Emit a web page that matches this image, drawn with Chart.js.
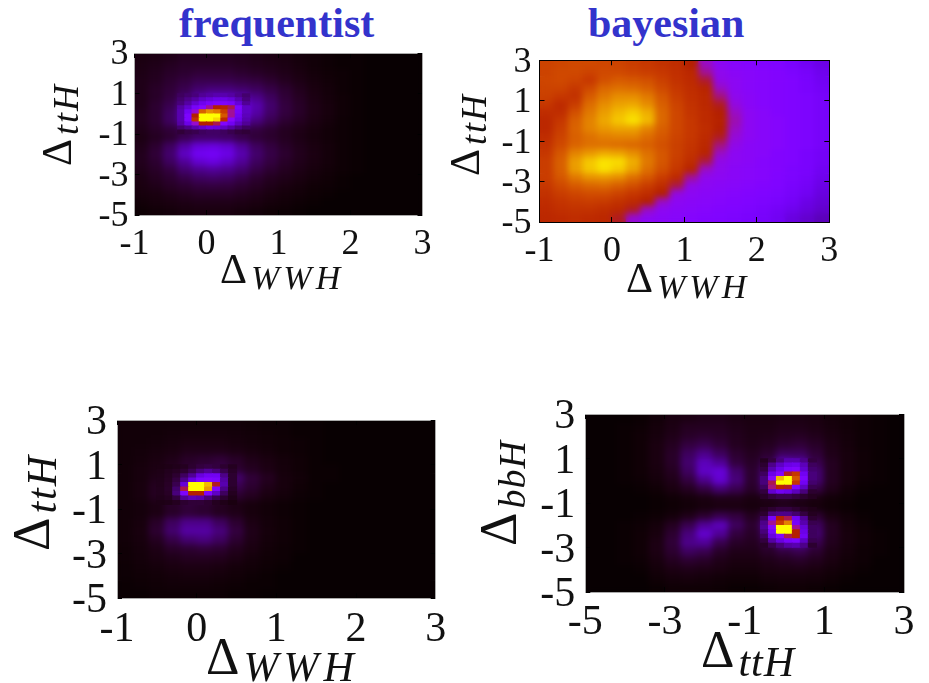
<!DOCTYPE html>
<html>
<head>
<meta charset="utf-8">
<title>frequentist vs bayesian</title>
<script src="https://cdn.jsdelivr.net/npm/chart.js@4/dist/chart.umd.min.js"></script>
<style>
  html, body { margin: 0; padding: 0; background: #fff; }
  body { position: relative; width: 929px; height: 683px; overflow: hidden; }
  canvas { position: absolute; }
  .head { position: absolute; top: 2px; font: bold 42px/1 "Liberation Serif", serif; color: #3333cc; }
  .lab { position: absolute; font-family: "Liberation Serif", serif; line-height: 1; white-space: nowrap; color: #111; }
  .lab i { position: relative; margin-left: 4px; }
  .rot { transform: rotate(-90deg); transform-origin: 0 0; }
</style>
</head>
<body>
<div class="head" style="left:179px">frequentist</div>
<div class="head" style="left:588px">bayesian</div>

<canvas id="panelA" style="clip-path: inset(0 39px 0 0)"></canvas>
<canvas id="panelB"></canvas>
<canvas id="panelC"></canvas>
<canvas id="panelD"></canvas>

<div class="lab" style="left:220px;top:248px;font-size:42px">Δ<i style="font-size:34px;letter-spacing:4px;top:6px">WWH</i></div>
<div class="lab rot" style="left:36px;top:166px;font-size:42px">Δ<i style="font-size:36px;letter-spacing:2px;top:7px">ttH</i></div>
<div class="lab" style="left:626px;top:257px;font-size:42px">Δ<i style="font-size:34px;letter-spacing:4px;top:6px">WWH</i></div>
<div class="lab rot" style="left:444px;top:176px;font-size:42px">Δ<i style="font-size:36px;letter-spacing:2px;top:7px">ttH</i></div>
<div class="lab" style="left:206px;top:631px;font-size:52px">Δ<i style="font-size:42px;letter-spacing:5px;top:7px">WWH</i></div>
<div class="lab rot" style="left:6px;top:551px;font-size:52px">Δ<i style="font-size:42px;letter-spacing:2px;top:7px">ttH</i></div>
<div class="lab" style="left:701px;top:624px;font-size:52px">Δ<i style="font-size:42px;letter-spacing:1px;top:9px">ttH</i></div>
<div class="lab rot" style="left:473px;top:546px;font-size:52px">Δ<i style="font-size:38px;letter-spacing:1px;top:9px">bbH</i></div>

<script>
// tick values per axis
const wwhTicksStep = 1
const tthTicksStep = 2

// values are percent of the colour range, rows run top to bottom
const aCoarse = [
  [1,1.2,1.5,2,2,2,2,1.8,1.5,1.2,1,.7,.5,.3,.2,.2,.1,.1,.1,.1],
  [1.2,1.5,2,2.5,2.5,2.5,2.5,2.2,1.8,1.5,1.2,.8,.5,.3,.2,.2,.1,.1,.1,.1],
  [1.3,1.8,2.5,3,3.5,3.5,3.5,3,2.5,2,1.5,1,.6,.4,.3,.2,.1,.1,.1,.1],
  [1.5,2,3,4,5,5,5,4.5,4,3,2,1.3,.8,.5,.3,.2,.1,.1,.1,.1],
  [1.5,2.5,3.5,5,7,8,8,7,6,4.5,3,1.8,1,.6,.3,.2,.1,.1,.1,.1],
  [1.5,2.5,4,7,11,14,14,12,9,6,3.5,2.2,1.2,.7,.4,.2,.1,.1,.1,.1],
  [1.5,3,5,10,17,22,24,20,12,7,4,2.5,1.4,.8,.4,.2,.1,.1,.1,.1],
  [1.8,3,6,12,20,30,28,20,11,6.5,4,2.5,1.4,.8,.4,.2,.1,.1,.1,.1],
  [1.8,3,6,11,18,20,18,12,8,5,3,2,1.2,.7,.3,.2,.1,.1,.1,.1],
  [1.5,2.5,3.5,5,6.5,7,6.5,5,4,3,2,1.4,.9,.5,.3,.2,.1,.1,.1,.1],
  [1.2,2,3,5,6.5,6.5,6,4.5,3.5,2.8,2,1.3,.8,.5,.3,.2,.1,.1,.1,.1],
  [1.5,3,6,11,16,17,15,10,6,4,2.5,1.6,1,.6,.3,.2,.1,.1,.1,.1],
  [1.8,3.5,7,14,20,21,18,12,7,4.5,3,1.8,1.1,.6,.3,.2,.1,.1,.1,.1],
  [1.8,3,6,10,15,17,14,10,6,4,2.5,1.6,1,.6,.3,.2,.1,.1,.1,.1],
  [1.5,2.5,4,7,9,10,9,7,4.5,3,2,1.3,.8,.5,.3,.2,.1,.1,.1,.1],
  [1.2,2,3,4.5,6,6.5,6,4.5,3,2,1.5,1,.6,.4,.2,.1,.1,.1,.1,.1],
  [1,1.5,2.3,3,3.8,4,3.8,3,2.2,1.5,1,.7,.4,.3,.2,.1,.1,.1,.1,.1],
  [.8,1,1.5,2,2.5,2.5,2.5,2,1.5,1,.7,.5,.3,.2,.1,.1,.1,.1,.1,.1],
  [.5,.8,1,1.3,1.5,1.5,1.5,1.3,1,.7,.5,.3,.2,.1,.1,.1,.1,.1,.1,.1],
  [.3,.5,.7,.9,1,1,1,.8,.6,.4,.3,.2,.1,.1,.1,.1,.1,.1,.1,.1]
]
const aPatch = [
  [6,7,8,10,11,12,12,11,9,7],
  [7,9,11,14,16,18,18,16,12,8],
  [8,11,15,19,22,24,24,22,16,10],
  [11,15,22,27,40,50,52,45,24,14],
  [12,20,35,72,82,78,62,40,22,14],
  [12,24,50,100,100,100,70,40,20,13],
  [12,24,58,100,100,95,55,28,18,12],
  [11,18,35,50,50,45,26,20,14,10],
  [7,9,12,15,18,17,14,11,8,6],
  [3.5,4.5,5,6,6.5,6.5,6,5,4,3.5]
]
const bCoarse = [
  [64,65,66,66,65,64,62,60,58,56,50,36,30,28,27,26,25,23,20,18],
  [64,66,66,64,66,66,64,62,60,57,54,40,31,29,28,27,26,24,22,19],
  [65,66,64,60,68,71,70,68,63,58,55,47,32,30,28,27,26,25,23,20],
  [64,64,60,66,74,76,75,72,66,60,56,52,36,30,28,27,26,25,23,21],
  [63,60,58,71,78,82,82,78,70,62,57,54,42,31,29,27,26,25,24,22],
  [60,55,62,75,82,86,87,82,72,64,58,54,48,33,29,27,26,25,24,22],
  [56,56,68,78,85,90,93,88,74,65,59,55,50,36,30,28,26,25,24,22],
  [54,60,72,80,87,92,96,90,74,65,60,55,51,38,30,28,27,25,24,22],
  [54,62,73,80,84,86,86,80,72,65,60,56,50,36,30,28,27,25,24,22],
  [56,64,72,76,79,80,80,75,70,64,60,55,48,34,30,28,27,25,24,22],
  [58,66,73,76,76,75,74,72,68,63,59,54,42,32,29,28,27,25,24,22],
  [60,70,80,84,87,86,82,76,70,63,58,52,36,30,29,28,26,25,23,21],
  [62,72,85,92,96,95,88,78,70,62,56,46,32,30,29,27,26,25,23,21],
  [62,72,85,92,96,93,86,76,68,60,52,36,31,29,28,27,26,24,23,20],
  [62,70,78,83,84,82,76,70,62,55,40,31,30,29,28,27,25,24,22,19],
  [60,66,71,74,75,72,68,62,56,46,32,30,29,28,27,26,25,23,21,18],
  [58,62,65,67,67,64,60,56,50,33,30,29,28,27,26,25,24,22,20,17],
  [56,59,61,62,61,58,55,50,36,30,29,28,27,26,25,24,23,21,18,16],
  [55,57,58,58,56,54,48,36,30,29,28,27,26,25,24,23,21,19,17,15],
  [54,55,56,55,54,48,34,30,29,28,27,26,25,24,23,22,20,17,15,13]
]
const cCoarse = [
  [.5,.5,.5,.5,.5,.5,.5,.5,.4,.3,.3,.2,.2,.1,.1,.1,.1,.1,.1,.1],
  [.5,.5,.5,.6,.7,.7,.7,.6,.5,.4,.3,.2,.2,.1,.1,.1,.1,.1,.1,.1],
  [.5,.5,.6,.8,1,1,1,.8,.6,.5,.4,.3,.2,.1,.1,.1,.1,.1,.1,.1],
  [.5,.6,.8,1,1.5,1.5,1.5,1.2,.9,.6,.4,.3,.2,.1,.1,.1,.1,.1,.1,.1],
  [.5,.7,1,1.5,2.5,3,3.5,2.5,1.5,1,.6,.4,.2,.1,.1,.1,.1,.1,.1,.1],
  [.5,.8,1.2,2,3,4,4.5,3,2,1.2,.7,.4,.2,.2,.1,.1,.1,.1,.1,.1],
  [.5,.8,1.5,3,5,8,10,7,3.5,2,.8,.5,.2,.2,.1,.1,.1,.1,.1,.1],
  [.5,.9,2,4,8,12,9,5,3,1.5,.8,.4,.2,.1,.1,.1,.1,.1,.1,.1],
  [.5,.9,2,4,6,6,4,3,2,1,.6,.3,.2,.1,.1,.1,.1,.1,.1,.1],
  [.5,.7,1.2,2.5,3.5,3,2,1.2,.8,.5,.3,.2,.1,.1,.1,.1,.1,.1,.1,.1],
  [.5,.7,1.2,2.5,3.5,3,2,1.5,.8,.5,.3,.2,.1,.1,.1,.1,.1,.1,.1,.1],
  [.5,.8,2.5,6,9,9,6,3,1.2,.6,.4,.2,.1,.1,.1,.1,.1,.1,.1,.1],
  [.5,.9,3,7,11,11,8,4,1.5,.7,.4,.2,.1,.1,.1,.1,.1,.1,.1,.1],
  [.5,.8,2,4.5,7,8,6,3,1.3,.6,.4,.2,.1,.1,.1,.1,.1,.1,.1,.1],
  [.4,.7,1.3,2.5,3,3.5,3,1.8,1,.5,.3,.2,.1,.1,.1,.1,.1,.1,.1,.1],
  [.4,.6,1,1.5,2,2,1.8,1.2,.7,.4,.3,.1,.1,.1,.1,.1,.1,.1,.1,.1],
  [.3,.5,.7,1,1.2,1.2,1,.7,.5,.3,.2,.1,.1,.1,.1,.1,.1,.1,.1,.1],
  [.3,.4,.5,.7,.8,.8,.7,.5,.3,.2,.1,.1,.1,.1,.1,.1,.1,.1,.1,.1],
  [.2,.3,.4,.5,.5,.5,.4,.3,.2,.2,.1,.1,.1,.1,.1,.1,.1,.1,.1,.1],
  [.2,.2,.3,.3,.3,.3,.3,.2,.2,.1,.1,.1,.1,.1,.1,.1,.1,.1,.1,.1]
]
const cPatch = [
  [1.2,1.4,1.6,2,3,4,4.5,4,3,2],
  [1.4,1.8,2.2,3,5,8,10,8,5,2.5],
  [1.5,2,3,6,10,17,20,20,9,3],
  [1.6,2.2,4,9,17,24,26,24,11,3],
  [1.7,2.4,5,16,100,100,90,48,12,3],
  [1.8,2.6,7,45,100,100,85,26,9,2.5],
  [1.8,2.4,8,24,50,50,25,14,6,2],
  [1.6,2,4,10,13,12,8,5,3,1.5],
  [1.3,1.5,2,3,3.5,3.5,3,2,1.5,1]
]
const dCoarse = [
  [.1,.1,.1,.2,.5,1,1.2,1.5,1.5,1.2,1,1,1.2,1.2,1,.7,.5,.3,.2,.1],
  [.1,.1,.2,.3,.7,1.2,2,2,2,1.5,1.2,1.2,1.5,1.5,1.2,.8,.5,.3,.2,.1],
  [.1,.1,.2,.4,.8,1.5,2.5,3,2.5,1.8,1.3,1.5,2,2.2,1.7,1,.6,.3,.2,.1],
  [.1,.1,.2,.4,1,2,4,5,3.5,2,1.5,2,3,3.5,2.5,1.3,.7,.3,.2,.1],
  [.1,.1,.2,.4,1,2.5,6,9,6,3,2,3,6,6,3.5,1.5,.8,.4,.2,.1],
  [.1,.1,.2,.4,1,2.5,7,13,10,4,2.5,5,14,12,5,2,.8,.4,.2,.1],
  [.1,.1,.2,.4,.9,2,6,14,16,7,3,8,30,24,7,2,.8,.4,.2,.1],
  [.1,.1,.2,.3,.7,1.5,4,9,15,8,3,10,60,30,7,2,.8,.3,.2,.1],
  [.1,.1,.1,.2,.4,1,2,4,7,5,2.5,7,18,14,4,1.5,.5,.2,.1,.1],
  [.1,.1,.1,.1,.2,.4,.7,1,1.5,1.5,1,1.5,2,1.5,1,.5,.3,.1,.1,.1],
  [.1,.1,.1,.1,.2,.3,.5,.8,1,1,.8,1,1.5,1,.7,.4,.2,.1,.1,.1],
  [.1,.1,.1,.2,.3,.7,1.5,3,5,4,2,5,14,10,3,1,.5,.2,.1,.1],
  [.1,.1,.2,.3,.7,2,5,10,13,6,3,9,50,35,6,2,.7,.3,.1,.1],
  [.1,.1,.2,.4,.9,3,8,15,10,4,2.5,7,30,28,7,2,.8,.4,.2,.1],
  [.1,.1,.2,.4,1.2,3.5,9,10,5,2.5,2,4,10,11,5,1.8,.8,.4,.2,.1],
  [.1,.1,.2,.4,1.2,3,6,5,2.5,1.5,1.5,2.5,4,5,3,1.3,.7,.3,.2,.1],
  [.1,.1,.2,.3,.9,2,3,2.5,1.5,1,1,1.5,2,2.5,1.8,1,.5,.3,.1,.1],
  [.1,.1,.1,.2,.6,1.2,1.5,1.3,1,.7,.7,1,1.2,1.3,1,.6,.4,.2,.1,.1],
  [.1,.1,.1,.1,.4,.7,.8,.7,.5,.4,.4,.6,.7,.7,.6,.4,.2,.1,.1,.1],
  [.1,.1,.1,.1,.2,.4,.4,.4,.3,.2,.2,.3,.4,.4,.3,.2,.1,.1,.1,.1]
]
const dUpper = [
  [2,4,8,12,12,9,4],
  [3,9,14,18,19,13,6],
  [4,12,18,24,26,15,7],
  [6,18,26,48,60,20,8],
  [8,28,90,100,70,24,8],
  [8,45,100,100,60,20,7],
  [6,42,52,48,24,14,5],
  [4,15,20,18,13,8,3],
  [2.5,4,5,5,4,3,2]
]
const dLower = [
  [2,3,4,4,3,2,1.5],
  [3,8,9,9,7,4,2],
  [6,22,50,45,20,10,3],
  [9,40,62,80,22,12,5],
  [10,28,100,100,40,16,6],
  [8,22,100,100,50,18,6],
  [6,17,26,45,50,20,6],
  [4,11,17,22,24,14,5],
  [2.5,5,8,11,12,9,3]
]

// gnuplot pm3d default palette
function heatColor(v) {
  const g = Math.min(1, Math.max(0, v / 100))
  const r = Math.round(255 * Math.sqrt(g))
  const gr = Math.round(255 * g * g * g)
  const b = Math.round(255 * Math.max(0, Math.sin(2 * Math.PI * g)))
  return `rgb(${r},${gr},${b})`
}

function gridCells(rows, x0, y0, dx, dy) {
  const out = []
  rows.forEach((row, r) => {
    row.forEach((v, c) => {
      out.push({ x: x0 + (c + 0.5) * dx, y: [y0 - (r + 1) * dy, y0 - r * dy], v })
    })
  })
  return out
}

// smooths a coarse layer: the plot area is drawn back over itself through a blur
const softCells = {
  id: 'softCells',
  afterDatasetDraw(chart, args) {
    const soft = chart.data.datasets[args.index].soft
    if (!soft) return
    const { left, top, width, height } = chart.chartArea
    const ctx = chart.ctx
    ctx.save()
    ctx.beginPath()
    ctx.rect(left, top, width, height)
    ctx.clip()
    ctx.filter = 'blur(' + soft + 'px)'
    ctx.drawImage(chart.canvas, left, top, width, height, left, top, width, height)
    ctx.restore()
  }
}

function drawPanel(id, box, plot, opt) {
  const canvas = document.getElementById(id)
  canvas.width = box.w
  canvas.height = box.h
  canvas.style.left = box.x + 'px'
  canvas.style.top = box.y + 'px'

  const plotW = plot.right - plot.left
  const xSpan = opt.xMax - opt.xMin

  const datasets = opt.layers.map((l, i) => ({
    data: l.cells,
    soft: l.soft,
    order: l.soft ? 10 : i,
    grouped: false,
    borderWidth: 0,
    barThickness: l.dx / xSpan * plotW + 0.5,
    backgroundColor: ctx => heatColor(ctx.raw.v)
  }))

  const tickFont = { family: '"Liberation Serif", serif', size: opt.fontSize }
  const sharedGrid = { drawOnChartArea: false, drawTicks: true, tickLength: -5, tickColor: opt.tickColor, offset: false, z: 2 }
  const sharedBorder = { display: true, color: opt.frame, width: 1, z: 2 }

  new Chart(canvas, {
    type: 'bar',
    data: { datasets },
    plugins: [softCells],
    options: {
      responsive: false,
      animation: false,
      events: [],
      layout: {
        autoPadding: false,
        padding: { top: plot.top - box.y, right: box.x + box.w - plot.right, left: 0, bottom: 0 }
      },
      plugins: { legend: { display: false }, tooltip: { enabled: false } },
      scales: {
        x: {
          type: 'linear', position: 'bottom', min: opt.xMin, max: opt.xMax, offset: false,
          afterFit(s) { s.height = box.y + box.h - plot.bottom },
          ticks: { stepSize: opt.xStep, color: '#111', font: tickFont, padding: opt.xPad, maxRotation: 0, autoSkip: false, callback: v => String(v) },
          grid: sharedGrid, border: sharedBorder
        },
        y: {
          type: 'linear', position: 'left', min: opt.yMin, max: opt.yMax,
          afterFit(s) { s.width = plot.left - box.x },
          ticks: { stepSize: opt.yStep, color: '#111', font: tickFont, padding: opt.yPad, autoSkip: false, labelOffset: opt.yShift, callback: v => String(v) },
          grid: sharedGrid, border: sharedBorder
        },
        xTop: {
          type: 'linear', position: 'top', min: opt.xMin, max: opt.xMax, offset: false,
          afterFit(s) { s.height = 0 },
          ticks: { stepSize: opt.xStep, display: false },
          grid: sharedGrid, border: sharedBorder
        },
        yRight: {
          type: 'linear', position: 'right', min: opt.yMin, max: opt.yMax,
          afterFit(s) { s.width = 0 },
          ticks: { stepSize: opt.yStep, display: false },
          grid: sharedGrid, border: sharedBorder
        }
      }
    }
  })
}

drawPanel('panelA', { x: 0, y: 0, w: 470, h: 300 }, { left: 134.5, right: 422.5, top: 53, bottom: 215 }, {
  xMin: -1, xMax: 3, xStep: wwhTicksStep, yMin: -5, yMax: 3, yStep: tthTicksStep,
  fontSize: 36, xPad: 13, yPad: 11, yShift: 2, frame: '#aaa', tickColor: '#000',
  layers: [
    { cells: gridCells(aCoarse, -1, 3, 0.2, 0.4), dx: 0.2, soft: 3 },
    { cells: gridCells(aPatch, -0.4, 1, 0.1, 0.2), dx: 0.1 }
  ]
})
drawPanel('panelB', { x: 431, y: 0, w: 498, h: 300 }, { left: 539.5, right: 829.3, top: 60.3, bottom: 222 }, {
  xMin: -1, xMax: 3, xStep: wwhTicksStep, yMin: -5, yMax: 3, yStep: tthTicksStep,
  fontSize: 36, xPad: 13, yPad: 13, yShift: 2, frame: '#000', tickColor: '#000',
  layers: [
    { cells: gridCells(bCoarse, -1, 3, 0.2, 0.4), dx: 0.2, soft: 3 }
  ]
})
drawPanel('panelC', { x: 0, y: 300, w: 470, h: 383 }, { left: 117, right: 435.7, top: 420, bottom: 598.3 }, {
  xMin: -1, xMax: 3, xStep: wwhTicksStep, yMin: -5, yMax: 3, yStep: tthTicksStep,
  fontSize: 42, xPad: 11, yPad: 15, yShift: 3, frame: '#aaa', tickColor: '#000',
  layers: [
    { cells: gridCells(cCoarse, -1, 3, 0.2, 0.4), dx: 0.2, soft: 3 },
    { cells: gridCells(cPatch, -0.5, 1, 0.1, 0.2), dx: 0.1 }
  ]
})
drawPanel('panelD', { x: 470, y: 300, w: 459, h: 383 }, { left: 585.3, right: 904, top: 414, bottom: 592 }, {
  xMin: -5, xMax: 3, xStep: 2, yMin: -5, yMax: 3, yStep: tthTicksStep,
  fontSize: 42, xPad: 11, yPad: 15, yShift: 3, frame: '#aaa', tickColor: '#000',
  layers: [
    { cells: gridCells(dCoarse, -5, 3, 0.4, 0.4), dx: 0.4, soft: 3 },
    { cells: gridCells(dUpper, -0.6, 1, 0.2, 0.2), dx: 0.2 },
    { cells: gridCells(dLower, -0.6, -1.2, 0.2, 0.2), dx: 0.2 }
  ]
})
</script>
</body>
</html>
